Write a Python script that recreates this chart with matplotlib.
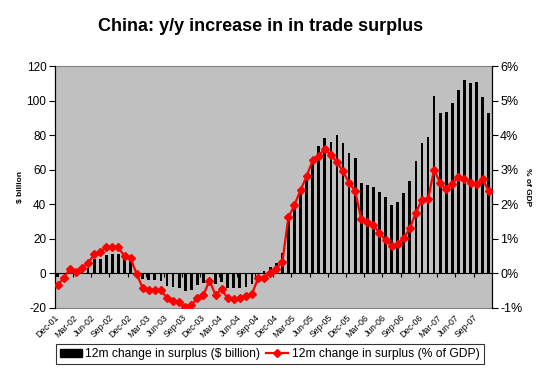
import matplotlib
matplotlib.use("Agg")
import matplotlib.pyplot as plt
import numpy as np
import pandas as pd
from matplotlib.lines import Line2D
from matplotlib.patches import Patch

plt.rcParams['font.family'] = ['Liberation Sans', 'DejaVu Sans']

# ---- data ----
months = pd.date_range('2001-12-01', periods=72, freq='MS').strftime('%b-%y').tolist()

surplus_bn = [-2, -0.5, 1, 1.5, 2, 3, 8.5, 8.5, 10.5, 11, 11.5, 9, 7.5,
              -1, -3.3, -3.7, -3.7, -4.3, -7.1, -7.9, -8.3, -9.9, -9.5, -6.8, -5.6,
              -0.3, -6.2, -4.8, -8.3, -8.7, -8.3, -7.9, -6.4, 0.5, 1.5, 3.5, 6, 12,
              32.5, 40, 48.5, 56.5, 66.5,
              74, 78.6, 76.3, 79.8, 75.6, 69.8, 66.5, 52.2, 51.4, 50.2, 47.3, 44.3,
              39.4, 41.4, 46.6, 53.5, 65.3, 75.7, 79.0, 102.6, 92.6, 93.3, 98.4,
              106.1, 112.1, 110, 110.5, 102.2, 92.9]

surplus_pct = [-0.33, -0.14, 0.14, 0.04, 0.16, 0.29, 0.55, 0.61, 0.76, 0.76, 0.76, 0.49, 0.44,
               -0.02, -0.42, -0.47, -0.47, -0.49, -0.71, -0.79, -0.84, -0.98, -0.92, -0.71,
               -0.62, -0.21, -0.62, -0.46, -0.72, -0.74, -0.72, -0.64, -0.59, -0.14, -0.13,
               0.01, 0.14, 0.33,
               1.62, 1.98, 2.41, 2.81, 3.27, 3.41, 3.60, 3.43, 3.22, 2.95, 2.62, 2.38,
               1.57, 1.50, 1.39, 1.18, 0.96, 0.80, 0.85, 1.02, 1.30, 1.76, 2.13, 2.14,
               3.00, 2.62, 2.43, 2.59, 2.79, 2.73, 2.62, 2.59, 2.73, 2.38]

tick_labels = ['Dec-01', 'Mar-02', 'Jun-02', 'Sep-02', 'Dec-02', 'Mar-03', 'Jun-03',
               'Sep-03', 'Dec-03', 'Mar-04', 'Jun-04', 'Sep-04', 'Dec-04', 'Mar-05',
               'Jun-05', 'Sep-05', 'Dec-05', 'Mar-06', 'Jun-06', 'Sep-06', 'Dec-06',
               'Mar-07', 'Jun-07', 'Sep-07']
left_ticks = [-20, 0, 20, 40, 60, 80, 100, 120]
right_ticks = [-1, 0, 1, 2, 3, 4, 5, 6]

# ---- figure ----
fig = plt.figure(figsize=(5.47, 3.74), dpi=100)
ax = fig.add_axes([0.1, 0.1765, 0.799, 0.647])
ax.set_facecolor('#C0C0C0')

x = np.arange(len(months))
ax.bar(x, surplus_bn, width=0.45, color='black', zorder=2)
ax.set_xlim(-0.5, len(months) - 0.5)
ax.set_ylim(-20, 120)
ax.set_yticks(left_ticks)
ax.set_yticklabels([str(v) for v in left_ticks], fontsize=8.5)
ax.tick_params(axis='y', direction='out', length=4, width=0.8, pad=2)

tick_pos = [months.index(l) for l in tick_labels]
ax.set_xticks(tick_pos)
ax.set_xticklabels(tick_labels, rotation=45, ha='right', va='center',
                   rotation_mode='anchor', fontsize=6.3)
ax.tick_params(axis='x', length=0, pad=6)

# zero axis line with tick marks
ax.axhline(0, color='black', lw=0.8, zorder=3)
sec = ax.secondary_xaxis(20 / 140)
sec.set_xticks([p - 0.5 for p in tick_pos])
sec.set_xticklabels([])
sec.tick_params(axis='x', direction='out', length=3, width=0.8, color='black')
sec.spines['bottom'].set_visible(False)

for s in ['top', 'bottom']:
    ax.spines[s].set_color('#808080')
    ax.spines[s].set_linewidth(0.8)
ax.spines['left'].set_color('black')
ax.spines['right'].set_color('black')

ax.set_ylabel('$ billion', fontsize=6, fontweight='bold', labelpad=2)

ax2 = ax.twinx()
ax2.plot(x, surplus_pct, color='#FF0000', lw=1.6, marker='D', markersize=4.3,
         markeredgecolor='#FF0000', zorder=4)
ax2.set_ylim(-1, 6)
ax2.set_yticks(right_ticks)
ax2.set_yticklabels([f'{v}%' for v in right_ticks], fontsize=9)
ax2.tick_params(axis='y', direction='out', length=4, width=0.8, pad=2)
ax2.set_ylabel('% of GDP', fontsize=6, fontweight='bold', rotation=270, labelpad=6)
for s in ['top', 'bottom']:
    ax2.spines[s].set_visible(False)

fig.text(0.477, 0.928, 'China: y/y increase in in trade surplus', ha='center',
         va='center', fontsize=13, fontweight='bold')

handles = [Patch(facecolor='black', edgecolor='black'),
           Line2D([0], [0], color='#FF0000', lw=1.6, marker='D', markersize=4.3)]
leg = fig.legend(handles, ['12m change in surplus ($ billion)', '12m change in surplus (% of GDP)'],
                 loc='center', bbox_to_anchor=(0.493, 0.053), ncol=2, fontsize=8.7,
                 frameon=True, fancybox=False, handlelength=1.8, handletextpad=0.3,
                 columnspacing=0.5, borderpad=0.35)
leg.get_frame().set_edgecolor('black')
leg.get_frame().set_linewidth(0.8)

fig.savefig('out.png', dpi=100)
